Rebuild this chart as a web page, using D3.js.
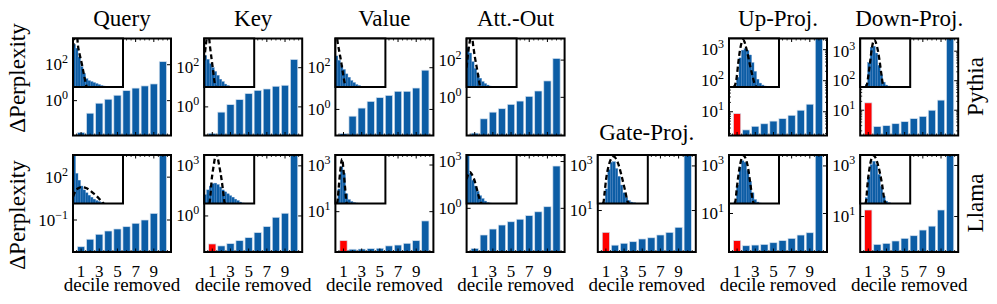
<!DOCTYPE html>
<html>
<head>
<meta charset="utf-8">
<script src="https://cdn.jsdelivr.net/npm/d3@7"></script>
<style>
  body { margin: 0; background: #fff; }
  svg { display: block; }
  text { font-family: "Liberation Serif", "Times New Roman", Times, "DejaVu Serif", serif; }
</style>
</head>
<body>
<svg id="chart" width="997" height="304" font-family="Liberation Serif, Times New Roman, DejaVu Serif, serif"></svg>
<script>
const columns = ["Query", "Key", "Value", "Att.-Out", "Gate-Proj.", "Up-Proj.", "Down-Proj."];
const models = ["Pythia", "Llama"];
const deciles = [1, 2, 3, 4, 5, 6, 7, 8, 9, 10];
const xTickLabels = [1, 3, 5, 7, 9];

// ΔPerplexity per removed decile
const pythiaQuery = [0.017, 0.20, 0.72, 1.2, 2.0, 3.6, 5.0, 6.6, 8.5, 148];
const pythiaKey = [0.045, 0.54, 1.3, 2.34, 4.8, 7.0, 8.2, 11.3, 12.7, 263];
const pythiaValue = [0.07, 0.475, 1.16, 2.43, 3.66, 4.7, 7.4, 7.4, 10.6, 76];
const pythiaAttOut = [0.012, 0.07, 0.16, 0.245, 0.42, 0.63, 1.13, 2.19, 7.6, 123];
const pythiaUp = [8.7, 2.6, 3.4, 4.1, 5.0, 6.0, 7.7, 11.2, 17.5, 5000];
const pythiaDown = [17.8, 2.8, 3.0, 3.5, 4.1, 5.2, 6.2, 10, 22, 5000];
const llamaQuery = [0.00135, 0.0045, 0.01, 0.017, 0.0235, 0.034, 0.059, 0.1, 0.29, 8000];
const llamaKey = [0.021, 0.016, 0.022, 0.033, 0.05, 0.1, 0.23, 0.83, 1.45, 8000];
const llamaValue = [0.57, 0.245, 0.25, 0.26, 0.27, 0.34, 0.37, 0.44, 0.57, 4.0];
const llamaAttOut = [0.0027, 0.0195, 0.047, 0.085, 0.138, 0.2, 0.34, 0.6, 1.27, 516];
const llamaGate = [1.05, 0.28, 0.34, 0.40, 0.53, 0.6, 0.8, 1.05, 1.77, 8000];
const llamaUp = [0.72, 0.44, 0.47, 0.5, 0.59, 0.72, 0.9, 1.24, 1.55, 8000];
const llamaDown = [18, 0.81, 0.89, 1.1, 1.4, 1.77, 2.95, 4.2, 18, 8000];

// y limits (log10) and labelled decades
const yLimPythia = [[-1.94, 3.46], [-1.46, 3.49], [-1.25, 3.40], [-2.05, 3.16], null, [0.235, 3.36], [0.144, 3.43]];
const yLimLlama = [[-3.24, 3.55], [-2.16, 3.65], [-0.73, 3.43], [-2.8, 3.42], [-0.86, 3.49], [-0.62, 3.46], [-0.39, 3.41]];
const yTicksPythia = [[0, 2], [0, 2], [0, 2], [0, 2], null, [1, 2, 3], [1, 2, 3]];
const yTicksLlama = [[-1, 2], [0, 3], [1, 3], [0, 3], [1, 3], [1, 3], [1, 3]];

// inset histograms (20 bins, relative height) and dashed fits [bin, height]
const pythiaQueryHist = [88, 80, 62, 42, 28, 17, 13, 11, 9, 7, 5, 3, 2, 1, 0, 0, 0, 0, 0, 0];
const pythiaQueryFit = [[0, 80], [0.8, 110], [1.4, 115], [2.0, 85], [2.8, 64], [3.6, 46], [4.2, 30], [4.8, 15], [5.3, 3], [5.6, 0]];
const pythiaKeyHist = [65, 57, 48, 40, 32, 24, 16, 11, 6, 3, 1, 0, 0, 0, 0, 0, 0, 0, 0, 0];
const pythiaKeyFit = [[0, 55], [0.7, 88], [1.2, 105], [1.7, 110], [2.3, 84], [2.9, 60], [3.6, 32], [4.3, 5], [4.8, 0]];
const pythiaValueHist = [64, 55, 45, 36, 27, 20, 13, 9, 5, 3, 1, 0, 0, 0, 0, 0, 0, 0, 0, 0];
const pythiaValueFit = [[0, 105], [0.4, 110], [0.9, 92], [1.6, 72], [2.3, 52], [2.9, 32], [3.6, 11], [4.0, 2], [4.3, 0]];
const pythiaAttOutHist = [82, 70, 52, 38, 26, 18, 11, 7, 4, 2, 1, 0, 0, 0, 0, 0, 0, 0, 0, 0];
const pythiaAttOutFit = [[0, 40], [0.6, 70], [1.3, 95], [2.0, 108], [2.7, 83], [3.3, 62], [4.0, 42], [4.7, 21], [5.3, 3], [5.7, 0]];
const pythiaUpHist = [0, 0, 2, 20, 60, 76, 79, 75, 66, 50, 32, 16, 8, 4, 2, 1, 0, 0, 0, 0];
const pythiaUpFit = [[1.8, 0], [2.4, 4], [3.1, 21], [3.7, 49], [4.4, 76], [5.7, 97], [7.1, 76], [8.4, 45], [9.5, 21], [10.4, 4], [11, 0]];
const pythiaDownHist = [0, 0, 5, 50, 82, 84, 70, 45, 25, 10, 4, 2, 1, 0, 0, 0, 0, 0, 0, 0];
const pythiaDownFit = [[2.2, 0], [2.7, 5], [3.3, 25], [4.0, 53], [4.7, 81], [5.6, 97], [6.7, 84], [7.7, 56], [8.4, 29], [9.1, 5], [9.6, 0]];
const llamaQueryHist = [98, 62, 48, 36, 28, 22, 17, 13, 9, 6, 4, 2, 1, 0, 0, 0, 0, 0, 0, 0];
const llamaQueryFit = [[0, 14], [1.2, 27], [2.3, 32], [3.5, 34], [5.2, 32], [6.8, 27], [8.2, 21], [9.5, 15], [10.6, 9], [11.5, 4], [12.3, 0]];
const llamaKeyHist = [18, 28, 36, 41, 42, 39, 34, 28, 24, 20, 16, 13, 9, 6, 3, 1, 0, 0, 0, 0];
const llamaKeyFit = [[2.1, 0], [2.5, 17], [2.9, 44], [3.6, 72], [4.9, 102], [6.0, 78], [6.9, 51], [7.6, 24], [8.1, 3], [8.4, 0]];
const llamaValueHist = [3, 30, 76, 62, 20, 8, 4, 2, 1, 0, 0, 0, 0, 0, 0, 0, 0, 0, 0, 0];
const llamaValueFit = [[0.6, 0], [0.9, 7], [1.3, 31], [1.9, 65], [2.7, 92], [3.3, 65], [3.9, 31], [4.3, 7], [4.6, 0]];
const llamaAttOutHist = [98, 62, 48, 36, 25, 16, 10, 5, 2, 1, 0, 0, 0, 0, 0, 0, 0, 0, 0, 0];
const llamaAttOutFit = [[0, 50], [0.6, 60], [1.3, 65], [2.1, 60], [3.0, 50], [3.8, 36], [4.5, 22], [5.2, 9], [5.7, 2], [6.0, 0]];
const llamaGateHist = [0, 0, 3, 30, 70, 85, 86, 72, 56, 38, 22, 12, 6, 3, 1.5, 0.5, 0, 0, 0, 0];
const llamaGateFit = [[2.0, 0], [2.3, 3], [2.7, 21], [3.3, 49], [4.3, 77], [6.3, 97], [8.3, 80], [9.6, 55], [10.9, 27], [12.0, 3], [12.5, 0]];
const llamaUpHist = [0, 0, 4, 38, 75, 88, 85, 68, 45, 22, 8, 3, 1, 0, 0, 0, 0, 0, 0, 0];
const llamaUpFit = [[2.3, 0], [2.5, 3], [3.2, 35], [4.1, 70], [5.7, 99], [7.5, 77], [8.5, 42], [9.5, 7], [9.9, 0]];
const llamaDownHist = [0, 0, 12, 55, 80, 87, 80, 60, 35, 15, 5, 2, 0, 0, 0, 0, 0, 0, 0, 0];
const llamaDownFit = [[2.1, 0], [2.4, 7], [2.9, 38], [3.7, 72], [5.3, 99], [7.3, 76], [8.7, 41], [9.7, 7], [10.1, 0]];

const panels = [
  { row: 0, col: 0, values: pythiaQuery, hist: pythiaQueryHist, fit: pythiaQueryFit },
  { row: 0, col: 1, values: pythiaKey, hist: pythiaKeyHist, fit: pythiaKeyFit },
  { row: 0, col: 2, values: pythiaValue, hist: pythiaValueHist, fit: pythiaValueFit },
  { row: 0, col: 3, values: pythiaAttOut, hist: pythiaAttOutHist, fit: pythiaAttOutFit },
  { row: 0, col: 5, values: pythiaUp, hist: pythiaUpHist, fit: pythiaUpFit },
  { row: 0, col: 6, values: pythiaDown, hist: pythiaDownHist, fit: pythiaDownFit },
  { row: 1, col: 0, values: llamaQuery, hist: llamaQueryHist, fit: llamaQueryFit },
  { row: 1, col: 1, values: llamaKey, hist: llamaKeyHist, fit: llamaKeyFit },
  { row: 1, col: 2, values: llamaValue, hist: llamaValueHist, fit: llamaValueFit },
  { row: 1, col: 3, values: llamaAttOut, hist: llamaAttOutHist, fit: llamaAttOutFit },
  { row: 1, col: 4, values: llamaGate, hist: llamaGateHist, fit: llamaGateFit },
  { row: 1, col: 5, values: llamaUp, hist: llamaUpHist, fit: llamaUpFit },
  { row: 1, col: 6, values: llamaDown, hist: llamaDownHist, fit: llamaDownFit }
];
panels.forEach(p => {
  p.lim = (p.row === 0 ? yLimPythia : yLimLlama)[p.col];
  p.ticks = (p.row === 0 ? yTicksPythia : yTicksLlama)[p.col];
});

const svg = d3.select("#chart");
const W = 98, H = 97;
const colX = d3.scaleLinear().domain([0, 6]).range([73, 860.2]);
const rowTop = [38.5, 155];
const titleY = [26, 140];
const blue = "#0c5da5", red = "#ff0000";
const serif = "Liberation Serif, Times New Roman, DejaVu Serif, serif";

function supLabel(text, e) {
  text.append("tspan").text("10");
  text.append("tspan").attr("dy", -7).attr("font-size", 12).text(e < 0 ? "\u2212" + (-e) : e);
}

function tick(g, x1, y1, x2, y2, w) {
  g.append("line").attr("x1", x1).attr("y1", y1).attr("x2", x2).attr("y2", y2)
    .attr("stroke", "#000").attr("stroke-width", w);
}

function drawPanel(p, idx) {
  const L = colX(p.col), T = rowTop[p.row];
  const g = svg.append("g");
  const x = d3.scaleLinear().domain([0.11, 10.89]).range([L, L + W]);
  const y = d3.scaleLog().domain(p.lim.map(e => Math.pow(10, e))).range([T + H, T]);

  const clipId = "clip" + idx;
  svg.append("clipPath").attr("id", clipId).append("rect")
    .attr("x", L).attr("y", T).attr("width", W).attr("height", H);

  // bars
  g.append("g").attr("clip-path", `url(#${clipId})`)
    .selectAll("rect").data(p.values).join("rect")
    .attr("x", (d, i) => x(deciles[i] - 0.4))
    .attr("width", x(0.8) - x(0))
    .attr("y", d => y(d))
    .attr("height", d => T + H - y(d))
    .attr("fill", (d, i) => (i === 0 && d > p.values[1]) ? red : blue)
    .attr("stroke", "#d3e0ee").attr("stroke-width", 0.7);

  // x ticks (top & bottom, inward)
  const xMinor = d3.range(0.5, 10.75, 0.5).filter(v => !xTickLabels.includes(v));
  xTickLabels.forEach(v => {
    tick(g, x(v), T + H, x(v), T + H - 3.5, 1);
    tick(g, x(v), T, x(v), T + 3.5, 1);
  });
  xMinor.forEach(v => {
    tick(g, x(v), T + H, x(v), T + H - 2, 0.8);
    tick(g, x(v), T, x(v), T + 2, 0.8);
  });

  // y ticks (left & right, inward)
  p.ticks.forEach(e => {
    const yy = y(Math.pow(10, e));
    tick(g, L, yy, L + 4, yy, 1);
    tick(g, L + W, yy, L + W - 4, yy, 1);
  });
  if (p.ticks[1] - p.ticks[0] === 1) {
    const minors = [];
    for (let e = Math.floor(p.lim[0]); e <= Math.ceil(p.lim[1]); e++) {
      for (let m = 2; m <= 9; m++) {
        const v = m * Math.pow(10, e);
        if (Math.log10(v) > p.lim[0] && Math.log10(v) < p.lim[1]) minors.push(v);
      }
    }
    minors.forEach(v => {
      tick(g, L, y(v), L + 2, y(v), 0.8);
      tick(g, L + W, y(v), L + W - 2, y(v), 0.8);
    });
  }

  // y tick labels
  p.ticks.forEach(e => {
    const t = g.append("text").attr("x", L - 5).attr("y", y(Math.pow(10, e)) + 5.5)
      .attr("font-family", serif).attr("text-anchor", "end").attr("font-size", 17);
    supLabel(t, e);
  });

  g.append("rect").attr("x", L).attr("y", T).attr("width", W).attr("height", H)
    .attr("fill", "none").attr("stroke", "#000").attr("stroke-width", 2);

  // inset
  const iw = W / 2 + 1, ih = H / 2;
  const ix = d3.scaleLinear().domain([0, 20]).range([L, L + iw]);
  const iy = d3.scaleLinear().domain([0, 100]).range([T + ih, T]);
  const ig = g.append("g");
  const iclip = "iclip" + idx;
  svg.append("clipPath").attr("id", iclip).append("rect")
    .attr("x", L).attr("y", T).attr("width", iw).attr("height", ih);
  ig.append("rect").attr("x", L).attr("y", T).attr("width", iw).attr("height", ih).attr("fill", "#fff");
  const ic = ig.append("g").attr("clip-path", `url(#${iclip})`);
  ic.selectAll("rect").data(p.hist).join("rect")
    .attr("x", (d, i) => ix(i))
    .attr("width", ix(1) - ix(0))
    .attr("y", d => iy(d))
    .attr("height", d => iy(0) - iy(d))
    .attr("fill", blue).attr("stroke", "#4f86c0").attr("stroke-width", 0.4);
  ic.append("path")
    .attr("d", d3.line().x(d => ix(d[0])).y(d => iy(d[1])).curve(d3.curveMonotoneX)(p.fit))
    .attr("fill", "none").attr("stroke", "#000").attr("stroke-width", 2.3)
    .attr("stroke-dasharray", "5,3");
  ig.append("rect").attr("x", L).attr("y", T).attr("width", iw).attr("height", ih)
    .attr("fill", "none").attr("stroke", "#000").attr("stroke-width", 2);

  // titles
  if (p.row === 0 || p.col === 4) {
    svg.append("text").attr("x", L + W / 2).attr("y", titleY[p.row])
      .attr("font-family", serif).attr("text-anchor", "middle").attr("font-size", 23).text(columns[p.col]);
  }

  // x tick labels and x label on the bottom row
  if (p.row === 1) {
    xTickLabels.forEach(v => {
      svg.append("text").attr("x", x(v)).attr("y", 276.5)
        .attr("font-family", serif).attr("text-anchor", "middle").attr("font-size", 17).text(v);
    });
    svg.append("text").attr("x", L + W / 2).attr("y", 291)
      .attr("font-family", serif).attr("text-anchor", "middle").attr("font-size", 19).text("decile removed");
  }
}

panels.forEach(drawPanel);

// y labels and row labels
[78, 215].forEach(cy => {
  svg.append("text").attr("transform", `translate(25,${cy}) rotate(-90)`)
    .attr("font-family", serif).attr("text-anchor", "middle").attr("font-size", 23).text("\u0394Perplexity");
});
[86.5, 203].forEach((cy, i) => {
  svg.append("text").attr("transform", `translate(982.5,${cy}) rotate(-90)`)
    .attr("font-family", serif).attr("text-anchor", "middle").attr("font-size", 23).text(models[i]);
});
</script>
</body>
</html>
